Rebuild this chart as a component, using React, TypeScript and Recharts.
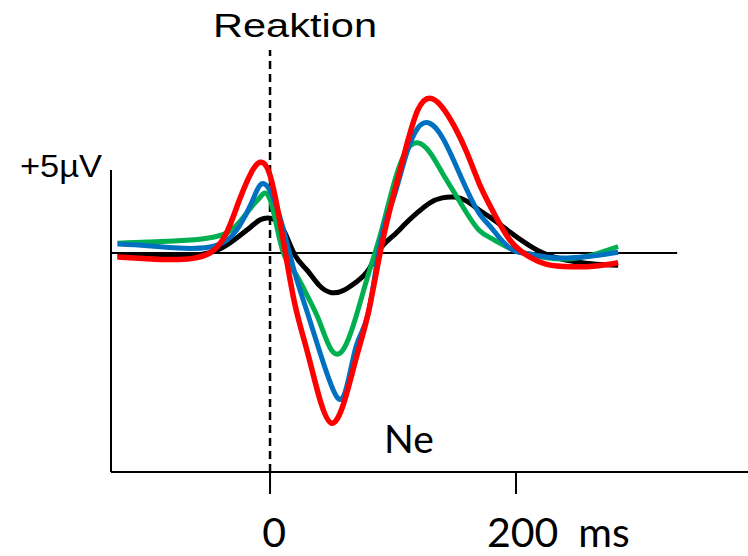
import React from "react";
import { LineChart, Line, XAxis, YAxis, ReferenceLine } from "recharts";

// time in ms relative to the response
const times = [
  -124, -100, -75, -50, -35, -25, -15, -8, 0, 10, 20, 30, 40, 50, 60, 70, 80, 90,
  100, 110, 120, 130, 140, 150, 160, 170, 180, 195, 210, 225, 245, 265, 283,
];

// amplitudes in µV
const blackWave = [
  -0.2, -0.2, -0.2, 0.0, 0.5, 1.05, 1.65, 2.05, 2.15, 1.55, -0.1, -1.05, -2.0, -2.45,
  -2.3, -1.8, -1.05, 0.3, 1.05, 1.8, 2.5, 3.1, 3.4, 3.45, 3.2, 2.65, 2.15, 1.3, 0.5,
  -0.1, -0.5, -0.7, -0.75,
];
const greenWave = [
  0.6, 0.68, 0.75, 0.93, 1.25, 1.9, 2.85, 3.45, 3.3, 0.2, -1.2, -2.6, -4.2, -6.0,
  -5.9, -3.9, -1.3, 1.2, 4.1, 6.2, 6.8, 6.2, 4.95, 3.7, 2.45, 1.4, 0.9, 0.3, -0.05,
  -0.3, -0.35, -0.05, 0.4,
];
const blueWave = [
  0.55, 0.45, 0.3, 0.35, 0.8, 1.65, 3.1, 4.2, 3.85, 1.7, -1.2, -3.6, -6.0, -8.2,
  -8.8, -5.75, -3.7, 0.8, 3.3, 5.9, 7.7, 8.0, 7.15, 5.6, 3.9, 2.45, 1.55, 0.3, -0.05,
  -0.25, -0.3, -0.15, 0.05,
];
const redWave = [
  -0.25, -0.35, -0.4, -0.05, 1.3, 3.25, 5.0, 5.6, 4.8, 1.1, -3.1, -6.0, -8.9, -10.5,
  -9.25, -6.5, -3.65, 0.2, 3.45, 6.35, 8.8, 9.55, 9.0, 7.8, 6.2, 4.3, 2.75, 0.8, -0.2,
  -0.7, -0.85, -0.8, -0.6,
];

const xTicks = [0, 200];

const data = times.map((t, i) => ({
  t,
  black: blackWave[i],
  green: greenWave[i],
  blue: blueWave[i],
  red: redWave[i],
}));

const X_MIN = -129.3;
const X_MAX = 388.6;
const Y_MIN = -13.52;
const Y_MAX = 12.53;

const TickLabel = (props: any) => {
  const { x, payload } = props;
  if (payload.value === 0) {
    return (
      <text x={x + 4} y={547} textAnchor="middle" fontFamily="Lato" fontSize={41} fill="#000">
        0
      </text>
    );
  }
  return (
    <text x={x - 29} y={547} fontFamily="Lato" fontSize={41} fill="#000">
      200
      <tspan dx={20}>ms</tspan>
    </text>
  );
};

export default function App() {
  return (
    <div style={{ position: "absolute", left: 0, top: 0, width: 748, height: 556 }}>
      <LineChart
        width={748}
        height={556}
        data={data}
        margin={{ top: 50, right: 0, bottom: 0, left: 111 }}
      >
        <XAxis
          dataKey="t"
          type="number"
          domain={[X_MIN, X_MAX]}
          allowDataOverflow
          ticks={xTicks}
          height={84}
          tickSize={22}
          axisLine={{ stroke: "#000", strokeWidth: 2 }}
          tickLine={{ stroke: "#000", strokeWidth: 2 }}
          tick={<TickLabel />}
        />
        <YAxis hide domain={[Y_MIN, Y_MAX]} allowDataOverflow />
        <ReferenceLine
          segment={[
            { x: X_MIN, y: 5.12 },
            { x: X_MIN, y: Y_MIN },
          ]}
          stroke="#000"
          strokeWidth={2}
        />
        <ReferenceLine
          segment={[
            { x: X_MIN, y: 0 },
            { x: 331, y: 0 },
          ]}
          stroke="#000"
          strokeWidth={2}
        />
        <ReferenceLine x={0} stroke="#000" strokeWidth={2.5} strokeDasharray="8 5" />
        <Line type="natural" dataKey="black" stroke="#000000" strokeWidth={5} dot={false} isAnimationActive={false} />
        <Line type="natural" dataKey="green" stroke="#00B050" strokeWidth={5} dot={false} isAnimationActive={false} />
        <Line type="natural" dataKey="blue" stroke="#0070C0" strokeWidth={5} dot={false} isAnimationActive={false} />
        <Line type="natural" dataKey="red" stroke="#FF0000" strokeWidth={5.5} dot={false} isAnimationActive={false} />
      </LineChart>
      <svg
        width={748}
        height={556}
        style={{ position: "absolute", left: 0, top: 0, pointerEvents: "none" }}
      >
        <text x={213} y={37} fontFamily="Liberation Sans" fontSize={34} textLength={164} lengthAdjust="spacingAndGlyphs" fill="#000">
          Reaktion
        </text>
        <text x={20} y={177} fontFamily="Liberation Sans" fontSize={31} textLength={82} lengthAdjust="spacingAndGlyphs" fill="#000">
          +5µV
        </text>
        <text x={384} y={453} fontFamily="Lato" fontSize={39} fill="#000">
          Ne
        </text>
      </svg>
    </div>
  );
}
